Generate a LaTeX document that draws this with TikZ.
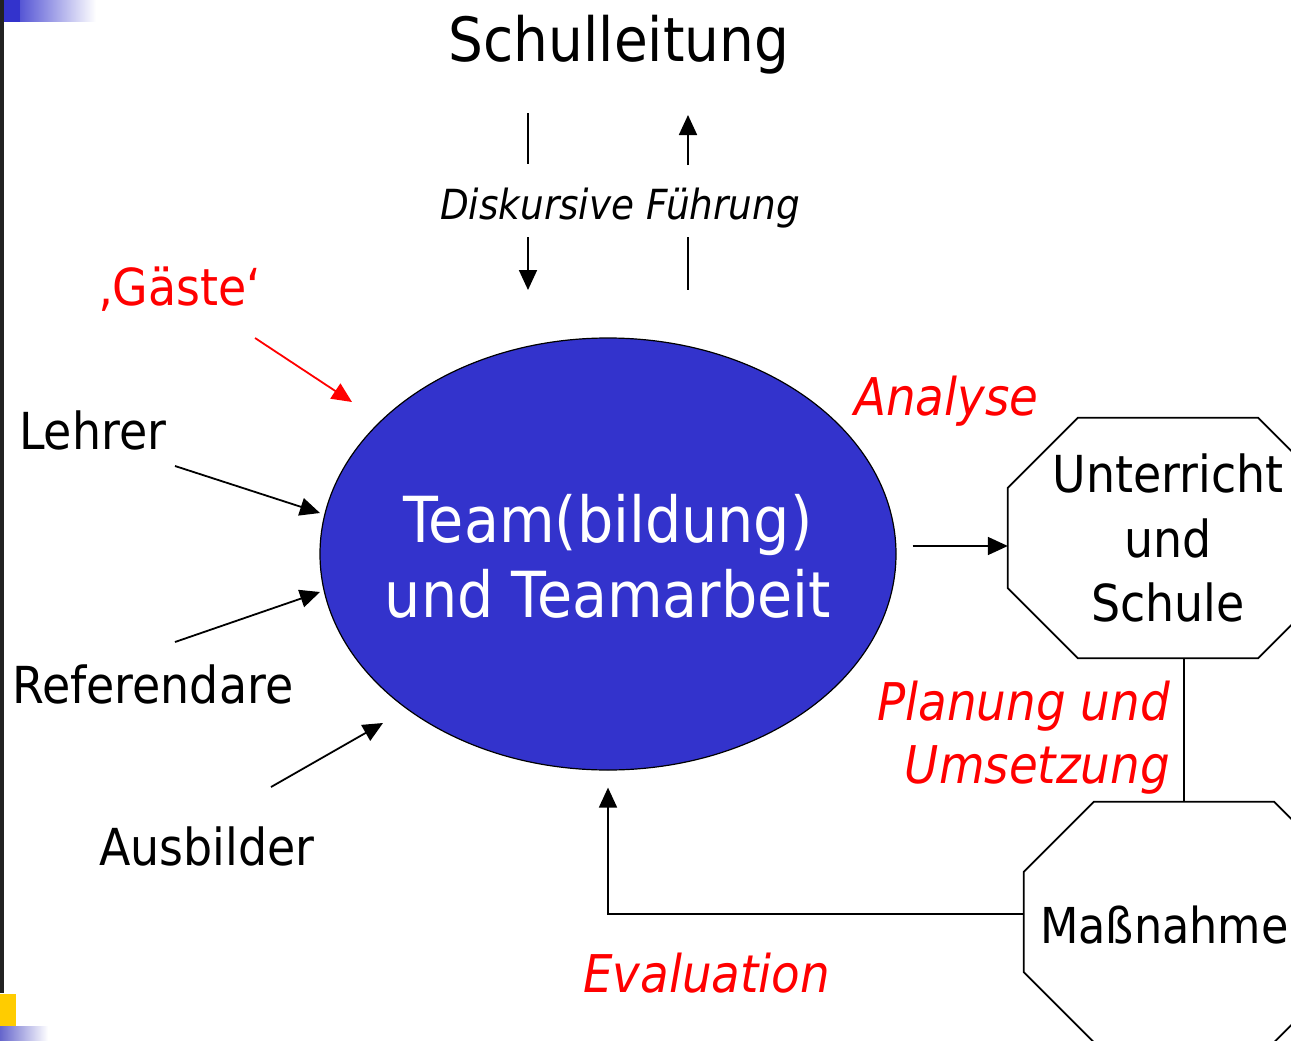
\documentclass[tikz,border=0pt]{standalone}
\usepackage{fontspec}
\setmainfont[FakeStretch=0.9]{DejaVu Sans}
\usetikzlibrary{shapes.geometric,arrows.meta,calc}
\definecolor{teamblue}{HTML}{3333CC}
\definecolor{barfill}{HTML}{222222}
\definecolor{sqyellow}{HTML}{FFCC00}
\definecolor{fadeblue}{HTML}{6666CC}
\begin{document}
\begin{tikzpicture}[x=1pt,y=-1pt,
  line/.style={line width=1.8pt},
  arr/.style={line, -{Triangle[length=20pt,width=18pt]}},
  lbl/.style={inner sep=0pt, font=\fontsize{51}{62}\selectfont},
  rlbl/.style={inner sep=0pt, text=red, font=\fontsize{52}{64}\selectfont\itshape},
]
\useasboundingbox (0,0) rectangle (1291,1041);
\clip (0,0) rectangle (1291,1041);
\fill[white] (0,0) rectangle (1291,1041);
% decorations
\fill[barfill] (0,0) rectangle (4,993);
\shade[left color=teamblue, right color=white] (4,0) rectangle (96,22);
\fill[teamblue] (4,0) rectangle (20,22);
\fill[sqyellow] (0,994) rectangle (16,1026);
\shade[left color=fadeblue, right color=white] (0,1026) rectangle (48,1041);

% title
\node[lbl, anchor=base, font=\fontsize{61}{70}\selectfont] (sl) at (619,62) {Schulleitung};
\node[lbl, anchor=base, font=\fontsize{41.5}{48}\selectfont\itshape] (df) at (620,219) {Diskursive Führung};
\coordinate (d1a) at (528,113); \coordinate (d1b) at (528,164);
\coordinate (d2a) at (528,237); \coordinate (d2b) at (528,290);
\coordinate (u1a) at (688,165); \coordinate (u1b) at (688,115);
\coordinate (u2a) at (688,237); \coordinate (u2b) at (688,290);
\draw[line] (d1a) -- (d1b);
\draw[arr] (d2a) -- (d2b);
\draw[arr] (u1a) -- (u1b);
\draw[line] (u2a) -- (u2b);

% central ellipse
\node[ellipse, draw=black, line width=1.2pt, fill=teamblue, minimum width=576pt, minimum height=432pt,
      inner sep=0pt] (team) at (608,554) {};
\node[inner sep=0pt, text=white, align=center, font=\fontsize{63.5}{75}\selectfont] (teamtext) at ([yshift=-2pt]team.center)
      {Team(bildung)\\und Teamarbeit};

% left labels
\node[inner sep=0pt, text=red, font=\fontsize{51}{62}\selectfont, anchor=base west] (gaeste) at (98,305) {‚Gäste‘};
\node[lbl, anchor=base west] (lehrer) at (19,449) {Lehrer};
\node[lbl, anchor=base west] (ref) at (12,703) {Referendare};
\node[lbl, anchor=base west] (ausb) at (99,865) {Ausbilder};
\coordinate (gA) at (255,338); \coordinate (gB) at (352,402);
\coordinate (lA) at (175,466); \coordinate (lB) at (320,513);
\coordinate (rA) at (175,642); \coordinate (rB) at (320,592);
\coordinate (aA) at (271,787); \coordinate (aB) at (383,723);
\draw[arr, red] (gA) -- (gB);
\draw[arr] (lA) -- (lB);
\draw[arr] (rA) -- (rB);
\draw[arr] (aA) -- (aB);

% octagon 1
\node[lbl, minimum width=320pt, minimum height=240pt, align=center, font=\fontsize{51}{64.5}\selectfont] (u) at (1168,538)
  {Unterricht\\und\\Schule};
\draw[line] ([xshift=70pt]u.north west) -- ([xshift=-70pt]u.north east) -- ([yshift=-70pt]u.north east)
  -- ([yshift=70pt]u.south east) -- ([xshift=-70pt]u.south east) -- ([xshift=70pt]u.south west)
  -- ([yshift=70pt]u.south west) -- ([yshift=-70pt]u.north west) -- cycle;

% octagon 2
\node[lbl, minimum width=320pt, minimum height=240pt] (m) at (1184,922) {};
\draw[line] ([xshift=70pt]m.north west) -- ([xshift=-70pt]m.north east) -- ([yshift=-70pt]m.north east)
  -- ([yshift=70pt]m.south east) -- ([xshift=-70pt]m.south east) -- ([xshift=70pt]m.south west)
  -- ([yshift=70pt]m.south west) -- ([yshift=-70pt]m.north west) -- cycle;
\node[lbl, font=\fontsize{49.5}{60}\selectfont, anchor=base west] (mtext) at (1040,943) {Maßnahme};

% connectors right side
\draw[arr] ([xshift=16pt,yshift=8pt]team.east) -- ([yshift=-8pt]u.west);
\draw[line] (m.north) -- (m.north |- u.south);
\draw[arr] ([yshift=8pt]m.west) -| ([yshift=-17pt]team.south);

% red labels
\node[rlbl, anchor=base west] (analyse) at (854,415) {Analyse};
\node[rlbl, anchor=base east] (plan1) at (1170,720) {Planung und};
\node[rlbl, anchor=base east] (plan2) at (1170,783) {Umsetzung};
\node[rlbl, anchor=base west] (eval) at (583,992) {Evaluation};
\end{tikzpicture}
\end{document}
